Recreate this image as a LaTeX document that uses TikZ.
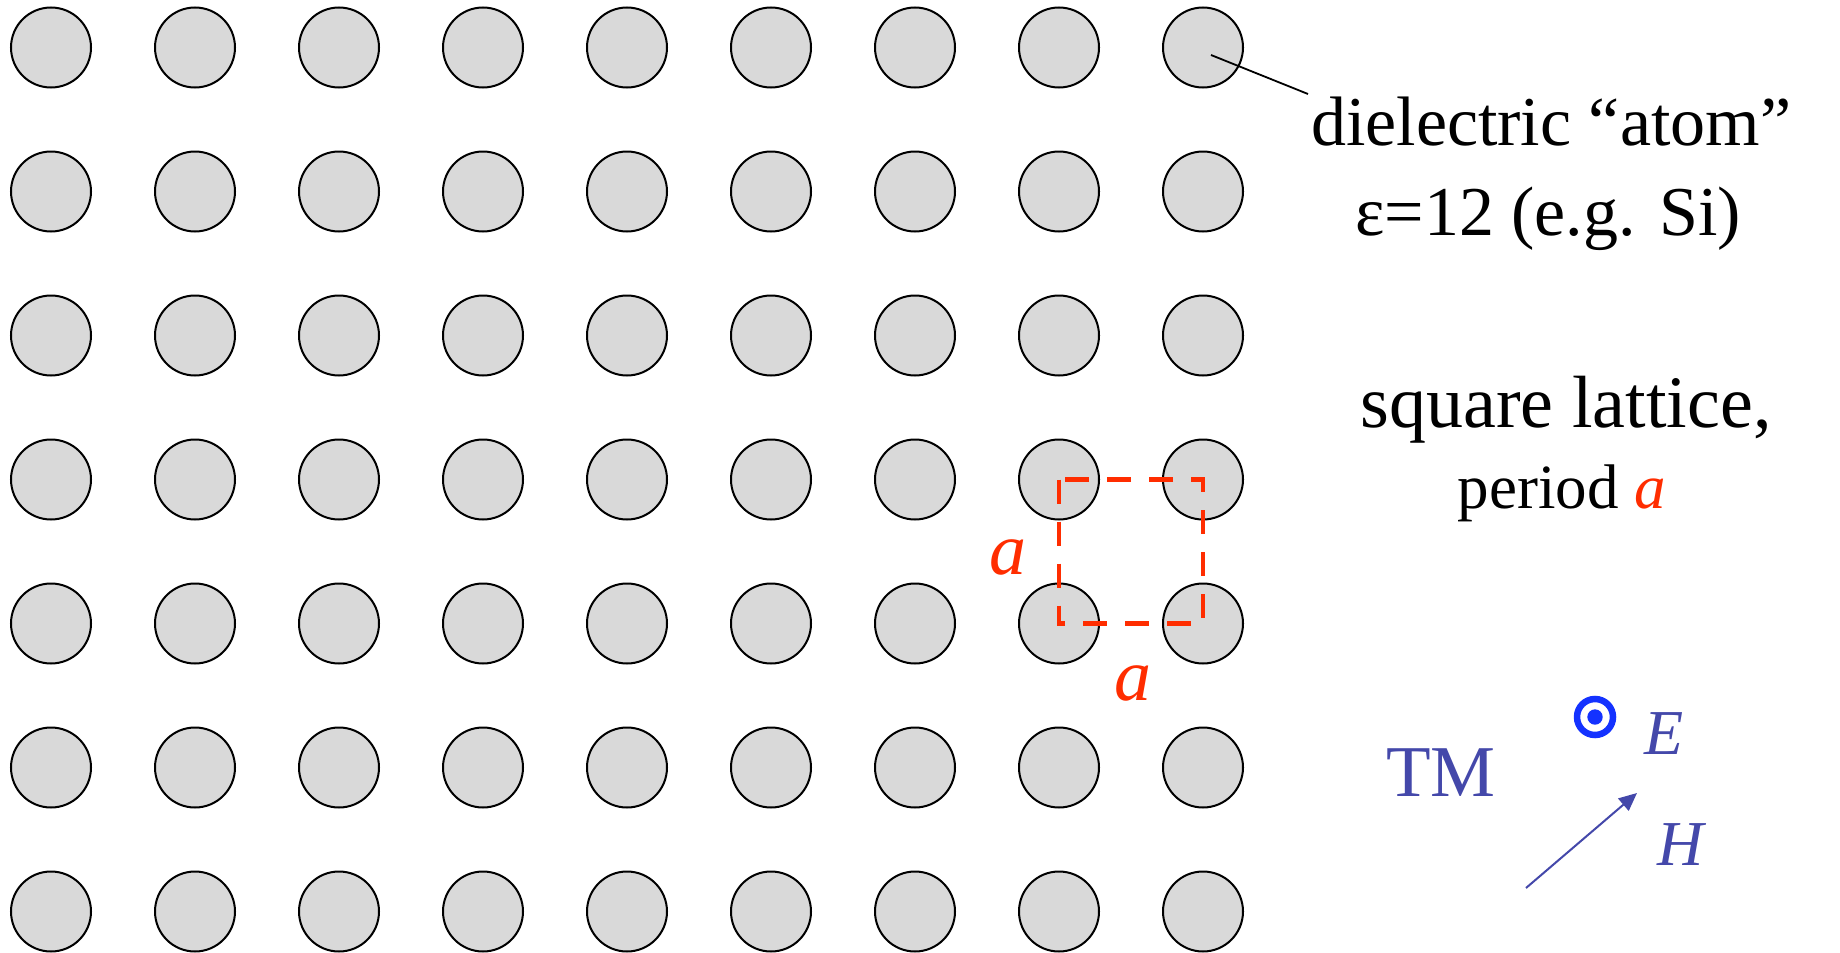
\documentclass[tikz,border=0pt]{standalone}
\usepackage{fontspec}
\setmainfont{Liberation Serif}
\usetikzlibrary{arrows.meta}
\definecolor{atomgray}{RGB}{217,217,217}
\definecolor{latred}{RGB}{255,45,0}
\definecolor{tmblue}{RGB}{68,72,170}
\definecolor{eblue}{RGB}{20,50,255}
\tikzset{
  atom/.style={circle, draw=black, fill=atomgray, line width=2pt, minimum size=80pt, inner sep=0pt},
  cellbox/.style={draw=latred, line width=4.5pt, dash pattern=on 24pt off 18pt},
  bigtext/.style={anchor=base, inner sep=0pt, font=\fontsize{70pt}{84pt}\selectfont},
  redlabel/.style={anchor=base, inner sep=0pt, text=latred, font=\fontsize{74pt}{88pt}\selectfont\itshape},
  fieldlabel/.style={anchor=base, inner sep=0pt, text=tmblue, font=\fontsize{64pt}{76pt}\selectfont\itshape},
}
\begin{document}
\begin{tikzpicture}[x=1pt,y=-1pt]
\useasboundingbox (0,0) rectangle (1840,953);
% lattice of atoms
\foreach \i in {0,...,8}{
  \foreach \j in {0,...,6}{
    \node[atom] (c-\i-\j) at ({51+144*\i},{47.5+144*\j}) {};
  }
}
% unit cell
\draw[cellbox] (c-7-3.center) rectangle (c-8-4.center);
\node[redlabel] (alabL) at (1008,574) {a};
\node[redlabel] (alabB) at (1133,700) {a};
% leader line and atom label
\coordinate (leadEnd) at (1308,94);
\draw[line width=1.8pt] (1211,55) -- (leadEnd);
\node[bigtext] (t1) at (1551,145) {dielectric “atom”};
\node[bigtext] (t2) at (1548,235) {ε=12 (e.g. Si)};
\node[bigtext, font=\fontsize{74pt}{88pt}\selectfont] (t3) at (1566,427) {square lattice,};
\node[bigtext, font=\fontsize{63pt}{75pt}\selectfont] (t4) at (1562,508) {period \textcolor{latred}{\itshape a}};
% TM polarisation
\node[anchor=base, inner sep=0pt, text=tmblue, font=\fontsize{73pt}{86pt}\selectfont] (tm) at (1441,796) {TM};
\draw[eblue, line width=6.5pt] (1595,717) circle (18pt);
\fill[eblue] (1595,717) circle (7.7pt);
\node[fieldlabel] (E) at (1664,754) {E};
\coordinate (hStart) at (1526,888);
\coordinate (hEnd) at (1637,793);
\draw[tmblue, line width=2pt, -{Triangle[length=18pt,width=16pt]}] (hStart) -- (hEnd);
\node[fieldlabel] (H) at (1681,865) {H};
\end{tikzpicture}
\end{document}
